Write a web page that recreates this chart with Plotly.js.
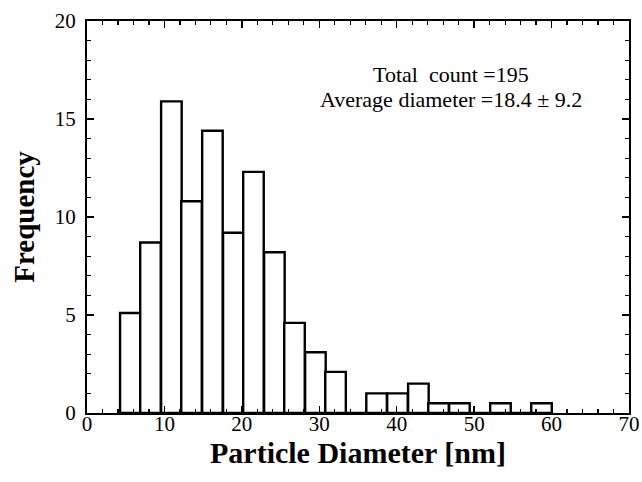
<!DOCTYPE html>
<html>
<head>
<meta charset="utf-8">
<script src="https://cdn.plot.ly/plotly-3.0.1.min.js"></script>
<style>html,body{margin:0;padding:0;background:#fff;}#chart{width:642px;height:482px;}</style>
</head>
<body>
<div id="chart"></div>
<script>
// Bin centers (nm) and frequency (%)
const binCenters = [5.6, 8.2, 10.9, 13.5, 16.2, 18.9, 21.5, 24.2, 26.8, 29.5, 32.1, 34.8, 37.4, 40.1, 42.8, 45.4, 48.1, 50.7, 53.4, 56.0, 58.7];
const frequency  = [5.1, 8.7, 15.9, 10.8, 14.4, 9.2, 12.3, 8.2, 4.6, 3.1, 2.1, 0, 1.0, 1.0, 1.5, 0.5, 0.5, 0, 0.5, 0, 0.5];
const binWidth = 2.655;
const xTickVals = [0, 10, 20, 30, 40, 50, 60, 70];
const yTickVals = [0, 5, 10, 15, 20];
const noteLines = ["Total\u00A0\u00A0count =195", "Average diameter =18.4 \u00B1 9.2"];

const serif = "Liberation Serif, Times New Roman, serif";

const trace = {
  type: "bar",
  x: binCenters,
  y: frequency,
  width: binCenters.map(() => binWidth),
  marker: {color: "#ffffff", line: {color: "#000000", width: 2.4}},
  hoverinfo: "x+y"
};

const axisCommon = {
  showgrid: false,
  zeroline: false,
  showline: true,
  linecolor: "#000",
  linewidth: 2,
  mirror: "allticks",
  ticks: "inside",
  ticklen: 7,
  tickwidth: 1.5,
  tickcolor: "#000",
  tickfont: {family: serif, size: 21, color: "#000"},
  minor: {ticks: "inside", ticklen: 4, tickwidth: 1.2, tickcolor: "#000"}
};

const layout = {
  width: 642, height: 482,
  margin: {l: 87, r: 13, t: 21, b: 69},
  paper_bgcolor: "#fff",
  plot_bgcolor: "#fff",
  showlegend: false,
  bargap: 0,
  xaxis: Object.assign({}, axisCommon, {
    range: [0, 70],
    tickvals: xTickVals,
    ticktext: xTickVals.map(String),
    ticklabelstandoff: -9,
    minor: Object.assign({}, axisCommon.minor, {dtick: 2, tick0: 0}),
    title: {text: "Particle Diameter [nm]", font: {family: serif, size: 30, color: "#000", weight: "bold"}, standoff: 4}
  }),
  yaxis: Object.assign({}, axisCommon, {
    range: [0, 20],
    tickvals: yTickVals,
    ticktext: yTickVals.map(String),
    ticklabelstandoff: 5,
    minor: Object.assign({}, axisCommon.minor, {dtick: 1, tick0: 0}),
    title: {text: "Frequency", font: {family: serif, size: 29, color: "#000", weight: "bold"}, standoff: 12}
  }),
  annotations: [
    {xref: "x", yref: "y", x: 47.0, y: 17.25, text: noteLines[0], showarrow: false,
     font: {family: serif, size: 22, color: "#000"}, xanchor: "center", yanchor: "middle"},
    {xref: "x", yref: "y", x: 47.0, y: 16.0, text: noteLines[1], showarrow: false,
     font: {family: serif, size: 22, color: "#000"}, xanchor: "center", yanchor: "middle"}
  ]
};

Plotly.newPlot("chart", [trace], layout, {displayModeBar: false, staticPlot: true});
</script>
</body>
</html>
